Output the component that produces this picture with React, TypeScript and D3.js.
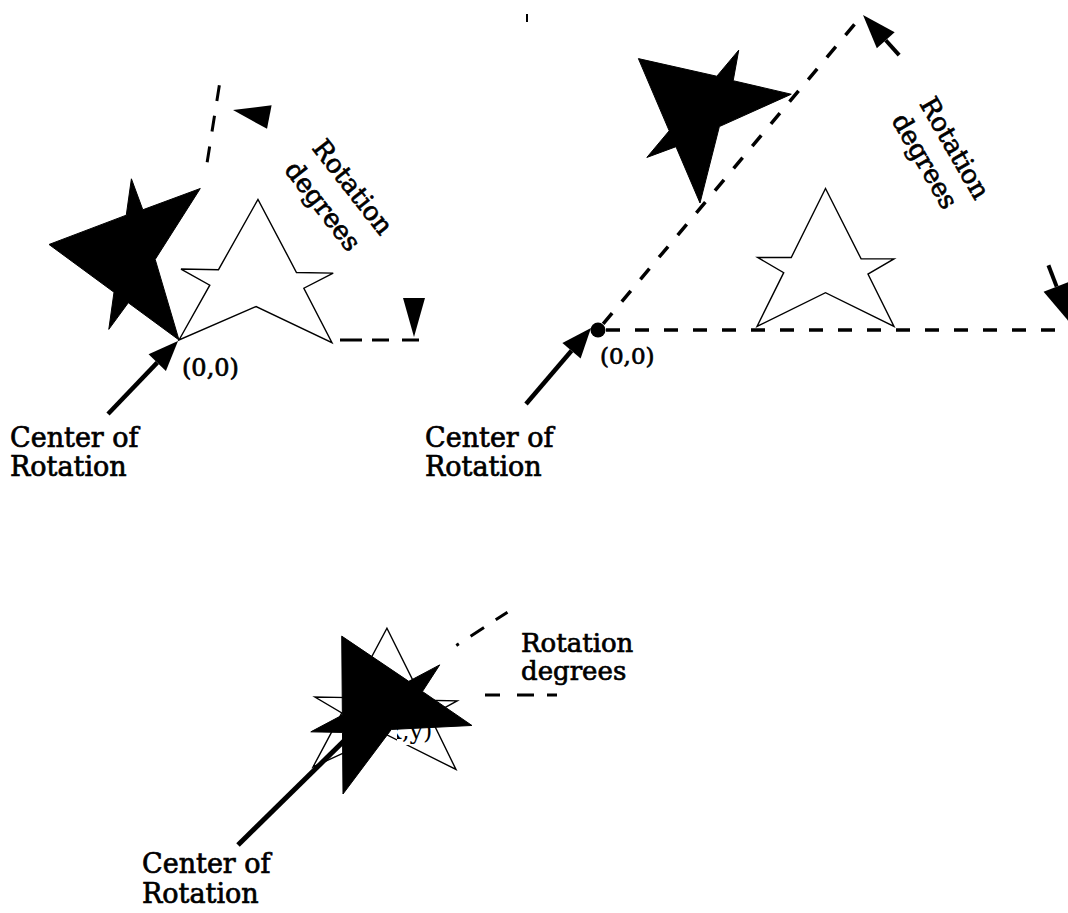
import * as d3 from "d3";

const WIDTH = 1068;
const HEIGHT = 913;
const FONT = "'DejaVu Serif', serif";

// star outline, unit size, measured from its bottom-left point (y grows downward)
const starShape: [number, number][] = [
  [0, 0],
  [0.195, -0.39],
  [0.005, -0.5],
  [0.25, -0.5],
  [0.5, -1],
  [0.76, -0.49],
  [1, -0.49],
  [0.81, -0.38],
  [1, 0],
  [0.5, -0.245],
];

// each star: bottom-left point, size, rotation in degrees
const stars = [
  { x: 179, y: 340, w: 153, h: 142, angle: 1, filled: false },
  { x: 179, y: 340, w: 153, h: 142, angle: -82, filled: true },
  { x: 757, y: 326.5, w: 137, h: 138, angle: 0, filled: false },
  { x: 700, y: 203, w: 142, h: 140, angle: -50, filled: true },
  { x: 313, y: 767, w: 143, h: 140, angle: 1, filled: false },
];
const frontStars = [{ x: 343, y: 794, w: 146, h: 140, angle: -28, filled: true }];

// dashed rays from a pivot: angle in degrees, start and end distance
const dashedRays = [
  { x: 179, y: 340, angle: 0, r0: 161, r1: 240, dash: "22 10 17 13 17 60", width: 3 },
  { x: 179, y: 340, angle: -81, r0: 180, r1: 260, dash: "16 15", width: 3 },
  { x: 598, y: 330, angle: 0, r0: 8, r1: 480, dash: "14 15", width: 3.5 },
  { x: 598, y: 330, angle: -50, r0: 8, r1: 411, dash: "14 15", width: 3.5 },
  { x: 380, y: 695, angle: 0, r0: 105, r1: 177, dash: "15 17 17 13 10 60", width: 3 },
  { x: 380, y: 695, angle: -33, r0: 91, r1: 152, dash: "3 14 16 14 14 60", width: 3 },
];

// "Center of Rotation" pointer arrows (tip at x2,y2)
const arrows = [
  { x1: 108, y1: 414, x2: 178, y2: 341, head: 30, half: 12, width: 4.5 },
  { x1: 526, y1: 404, x2: 591, y2: 328, head: 30, half: 12, width: 4.5 },
  { x1: 238, y1: 845, x2: 352, y2: 733, head: 0, half: 0, width: 5 },
];

// loose arrowheads at the ends of the rotation arcs
const heads = [
  { x: 233, y: 110, angle: -169, len: 37, half: 12, tail: 0 },
  { x: 414, y: 337, angle: 90, len: 39, half: 11, tail: 0 },
  { x: 863, y: 15, angle: -132, len: 34, half: 12, tail: 20 },
  { x: 1071, y: 324, angle: 69, len: 40, half: 14, tail: 23 },
];

const labels = [
  { text: "(0,0)", x: 182, y: 376, size: 24 },
  { text: "Center of", x: 10, y: 447, size: 27 },
  { text: "Rotation", x: 10, y: 476, size: 27 },
  { text: "(0,0)", x: 600, y: 364, size: 23 },
  { text: "Center of", x: 425, y: 447, size: 27 },
  { text: "Rotation", x: 425, y: 476, size: 27 },
  { text: "Rotation", x: 521, y: 652, size: 26 },
  { text: "degrees", x: 521, y: 680, size: 26 },
  { text: "Center of", x: 142, y: 873, size: 27 },
  { text: "Rotation", x: 142, y: 903, size: 27 },
];

// rotated labels, given by their centre
const rotatedLabels = [
  { text: "Rotation", x: 353, y: 187, angle: 52, size: 26 },
  { text: "degrees", x: 323, y: 206, angle: 52, size: 26 },
  { text: "Rotation", x: 955, y: 148, angle: 60, size: 26 },
  { text: "degrees", x: 925, y: 161, angle: 60, size: 26 },
];

const rad = (deg: number) => (deg * Math.PI) / 180;
const outline = d3.line<[number, number]>().curve(d3.curveLinearClosed);

function starPath(s: (typeof stars)[number]) {
  const a = rad(s.angle);
  const c = Math.cos(a);
  const sn = Math.sin(a);
  const pts = starShape.map(([u, v]) => {
    const px = u * s.w;
    const py = v * s.h;
    return [s.x + px * c - py * sn, s.y + px * sn + py * c] as [number, number];
  });
  return outline(pts) ?? "";
}

function headPoints(x: number, y: number, angle: number, len: number, half: number) {
  const dx = Math.cos(rad(angle));
  const dy = Math.sin(rad(angle));
  const bx = x - len * dx;
  const by = y - len * dy;
  const pts: [number, number][] = [
    [x, y],
    [bx - half * dy, by + half * dx],
    [bx + half * dy, by - half * dx],
  ];
  return { d: outline(pts) ?? "", bx, by, dx, dy };
}

function StarMark({ s }: { s: (typeof stars)[number] }) {
  return (
    <path
      d={starPath(s)}
      fill={s.filled ? "#000" : "#fff"}
      stroke="#000"
      strokeWidth={s.filled ? 1 : 1.4}
      strokeLinejoin="miter"
    />
  );
}

export default function App() {
  return (
    <svg
      width={WIDTH}
      height={HEIGHT}
      viewBox={`0 0 ${WIDTH} ${HEIGHT}`}
      style={{ position: "absolute", left: 0, top: 0, background: "#fff" }}
    >
      <defs>
        {/* only the tail of "(x,y)" shows past the filled star */}
        <clipPath id="xyClip">
          <rect x={397} y={727} width={46} height={22} />
        </clipPath>
      </defs>
      <rect width={WIDTH} height={HEIGHT} fill="#fff" />

      {stars.map((s, i) => (
        <StarMark key={`s${i}`} s={s} />
      ))}

      {dashedRays.map((r, i) => {
        const dx = Math.cos(rad(r.angle));
        const dy = Math.sin(rad(r.angle));
        return (
          <line
            key={`r${i}`}
            x1={r.x + r.r0 * dx}
            y1={r.y + r.r0 * dy}
            x2={r.x + r.r1 * dx}
            y2={r.y + r.r1 * dy}
            stroke="#000"
            strokeWidth={r.width}
            strokeDasharray={r.dash}
          />
        );
      })}

      {arrows.map((a, i) => {
        const ang = (Math.atan2(a.y2 - a.y1, a.x2 - a.x1) * 180) / Math.PI;
        const h = headPoints(a.x2, a.y2, ang, a.head, a.half);
        return (
          <g key={`a${i}`}>
            <line x1={a.x1} y1={a.y1} x2={h.bx} y2={h.by} stroke="#000" strokeWidth={a.width} />
            {a.head > 0 && <path d={h.d} fill="#000" />}
          </g>
        );
      })}

      {frontStars.map((s, i) => (
        <StarMark key={`f${i}`} s={s} />
      ))}

      {heads.map((h, i) => {
        const p = headPoints(h.x, h.y, h.angle, h.len, h.half);
        return (
          <g key={`h${i}`}>
            {h.tail > 0 && (
              <line
                x1={p.bx}
                y1={p.by}
                x2={p.bx - h.tail * p.dx}
                y2={p.by - h.tail * p.dy}
                stroke="#000"
                strokeWidth={4}
              />
            )}
            <path d={p.d} fill="#000" />
          </g>
        );
      })}

      {/* pivot dot of the middle figure */}
      <circle cx={598} cy={330} r={7.5} fill="#000" />
      <line x1={527} y1={14} x2={527} y2={22} stroke="#000" strokeWidth={2} />

      <g fontFamily={FONT} fill="#000" stroke="#000" strokeWidth={0.7}>
        {labels.map((l, i) => (
          <text key={`l${i}`} x={l.x} y={l.y} fontSize={l.size}>
            {l.text}
          </text>
        ))}
        {rotatedLabels.map((l, i) => (
          <text
            key={`rl${i}`}
            transform={`translate(${l.x},${l.y}) rotate(${l.angle})`}
            fontSize={l.size}
            textAnchor="middle"
            dominantBaseline="central"
          >
            {l.text}
          </text>
        ))}
      </g>
      <g clipPath="url(#xyClip)">
        <rect x={397} y={730} width={36} height={15} fill="#fff" />
        <text x={379} y={739} fontSize={24} fontFamily={FONT} fill="#000">
          (x,y)
        </text>
      </g>
    </svg>
  );
}
